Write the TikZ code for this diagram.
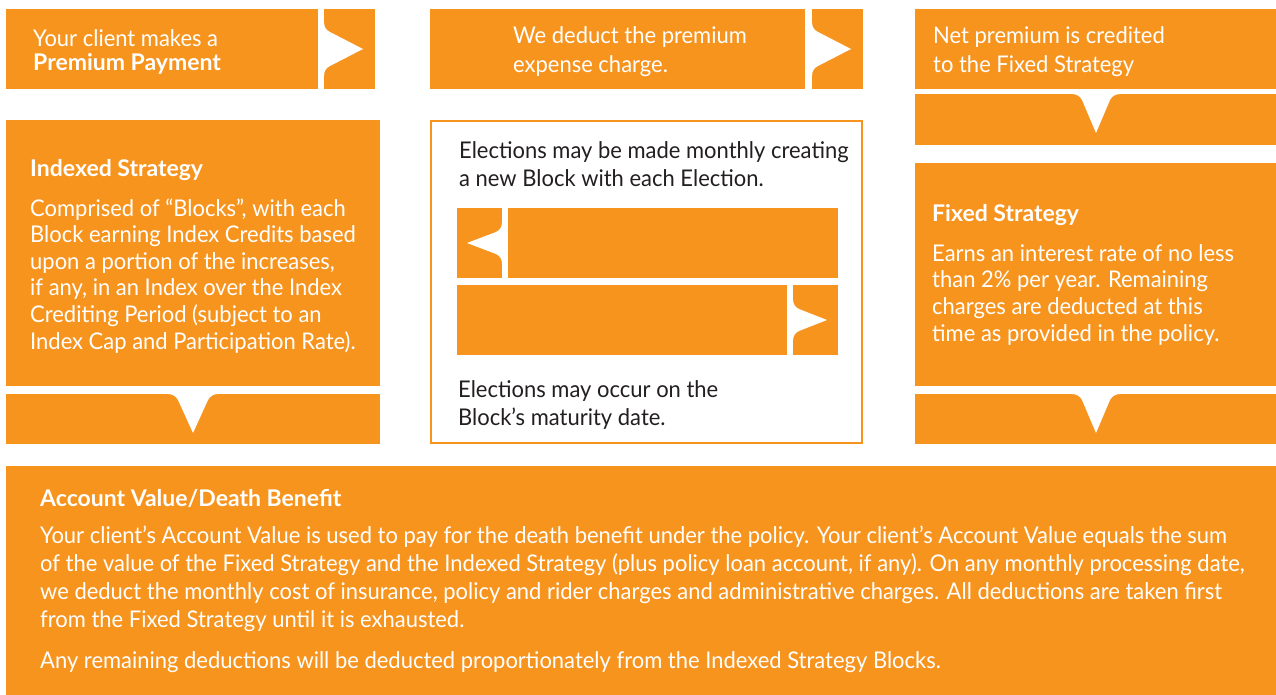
\documentclass[tikz,border=0pt]{standalone}
\usepackage{fontspec}
\setmainfont[FakeStretch=0.955, BoldFeatures={FakeStretch=1.0}]{Lato}
\definecolor{org}{HTML}{F7941E}
\definecolor{dk}{HTML}{231F20}
% white notch on a vertical edge: xe edge x, xt tip x, ym centre y, a half opening
\newcommand{\hnotch}[4]{%
  \pgfmathsetmacro\sgn{sign(#2-#1)}%
  \fill[white] (#1-2*\sgn,#3-#4) -- (#1,#3-#4) .. controls (#1,#3-#4+5) and (#1+2*\sgn,#3-#4+8) .. (#1+6*\sgn,#3-#4+10) -- (#2,#3) -- (#1+6*\sgn,#3+#4-10) .. controls (#1+2*\sgn,#3+#4-8) and (#1,#3+#4-5) .. (#1,#3+#4) -- (#1-2*\sgn,#3+#4) -- cycle;}
% white V notch on a top edge: ye edge y, yt tip y, xm centre x, a half opening
\newcommand{\vnotch}[4]{%
  \fill[white] (#3-#4,#1-2) -- (#3-#4,#1) .. controls (#3-#4+4,#1) and (#3-#4+8,#1+2) .. (#3-#4+10,#1+6) -- (#3,#2) -- (#3+#4-10,#1+6) .. controls (#3+#4-8,#1+2) and (#3+#4-4,#1) .. (#3+#4,#1) -- (#3+#4,#1-2) -- cycle;}
\tikzset{
  box/.style={fill=org},
  txt/.style={anchor=base west, inner sep=0pt, align=left, text=white, font=\fontsize{23}{26.6}\selectfont},
  dtxt/.style={txt, text=dk, font=\fontsize{23}{28}\selectfont},
  ttl/.style={anchor=base west, inner sep=0pt, text=white, font=\fontsize{23}{26}\selectfont\bfseries},
}
\begin{document}
\begin{tikzpicture}[x=1pt,y=-1pt]
\useasboundingbox (0,0) rectangle (1276,695);
% top row
\fill[box] (6,9) rectangle (318,89);
\fill[box] (324,9) rectangle (375,89);
\hnotch{324}{363}{49}{27}
\fill[box] (430,9) rectangle (805,89);
\fill[box] (812,9) rectangle (863,89);
\hnotch{812}{851}{49}{27}
\fill[box] (915,9) rectangle (1276,89);
\fill[box] (915,94) rectangle (1276,145);
\vnotch{94}{133}{1096}{24}
% left column
\fill[box] (6,120) rectangle (380,386);
\fill[box] (6,394) rectangle (380,444);
\vnotch{394}{433}{193}{25}
% middle column
\draw[org, line width=2pt] (431,121) rectangle (862,443);
\fill[box] (457,208) rectangle (502,278);
\hnotch{502}{467}{243}{21}
\fill[box] (508,208) rectangle (838,278);
\fill[box] (457,285) rectangle (787,355);
\fill[box] (793,285) rectangle (838,355);
\hnotch{793}{827}{320}{21}
% right column
\fill[box] (915,163) rectangle (1276,386);
\fill[box] (915,394) rectangle (1276,444);
\vnotch{394}{433}{1096}{24}
% bottom
\fill[box] (6,466) rectangle (1276,695);
% texts (multi-line nodes are placed by the baseline of their last line)
\node[txt, font=\fontsize{23}{24}\selectfont] (t1) at (33,71) {Your client makes a\\\textbf{Premium Payment}};
\node[txt, font=\fontsize{23}{29}\selectfont] (t2) at (513,73) {We deduct the premium\\expense charge.};
\node[txt, font=\fontsize{23}{29}\selectfont] (t3) at (933,73) {Net premium is credited\\to the Fixed Strategy};
\node[ttl] (ist) at (30,177) {Indexed Strategy};
\node[txt] (isb) at (30,349) {Comprised of “Blocks”, with each\\Block earning Index Credits based\\upon a portion of the increases,\\if any, in an Index over the Index\\Crediting Period (subject to an\\Index Cap and Participation Rate).};
\node[dtxt] (m1) at (459,186) {Elections may be made monthly creating\\a new Block with each Election.};
\node[dtxt] (m2) at (458,425) {Elections may occur on the\\Block’s maturity date.};
\node[ttl] (fst) at (932,222) {Fixed Strategy};
\node[txt] (fsb) at (932,341) {Earns an interest rate of no less\\than 2\% per year. Remaining\\charges are deducted at this\\time as provided in the policy.};
\node[ttl] (avt) at (40,506) {Account Value/Death Benefit};
\node[txt, font=\fontsize{23}{27.7}\selectfont] (avb) at (40,627) {Your client’s Account Value is used to pay for the death benefit under the policy. Your client’s Account Value equals the sum\\of the value of the Fixed Strategy and the Indexed Strategy (plus policy loan account, if any). On any monthly processing date,\\we deduct the monthly cost of insurance, policy and rider charges and administrative charges. All deductions are taken first\\from the Fixed Strategy until it is exhausted.};
\node[txt] (avl) at (40,668) {Any remaining deductions will be deducted proportionately from the Indexed Strategy Blocks.};
\end{tikzpicture}
\end{document}
